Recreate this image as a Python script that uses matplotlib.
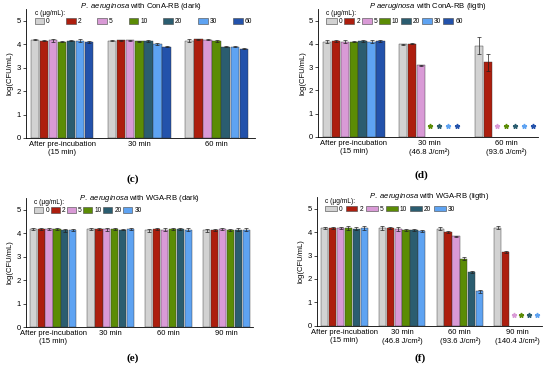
import numpy as np
import matplotlib
matplotlib.use('Agg')
import matplotlib.pyplot as plt
from matplotlib.patches import Patch

matplotlib.rcParams.update({'font.family': 'Liberation Sans', 'font.size': 5.5})
matplotlib.rcParams.update({'mathtext.fontset': 'custom',
                            'mathtext.rm': 'Liberation Sans',
                            'mathtext.it': 'Liberation Sans:italic'})

# series (concentration, ug/mL) and their colours
conc = ['0', '2', '5', '10', '20', '30', '60']
colors = ['#d2d2d2', '#ad1e0e', '#d99ad6', '#5b8c05', '#2b5d70', '#5ea3f2', '#2352ab']

# (c) ConA-RB dark
c_groups = ['After pre-incubation\n(15 min)', '30 min', '60 min']
c_vals = [[4.18, 4.15, 4.16, 4.10, 4.15, 4.15, 4.10],
          [4.15, 4.17, 4.16, 4.13, 4.13, 4.02, 3.90],
          [4.15, 4.20, 4.18, 4.14, 3.90, 3.90, 3.80]]
c_err = [[0.02, 0.03, 0.05, 0.02, 0.03, 0.05, 0.03],
         [0.02, 0.02, 0.03, 0.02, 0.04, 0.05, 0.04],
         [0.07, 0.03, 0.02, 0.03, 0.04, 0.02, 0.02]]

# (d) ConA-RB light
d_groups = ['After pre-incubation\n(15 min)', '30 min\n(46.8 J/cm²)', '60 min\n(93.6 J/cm²)']
d_vals = [[4.10, 4.12, 4.10, 4.10, 4.12, 4.10, 4.12],
          [3.98, 4.00, 3.07, np.nan, np.nan, np.nan, np.nan],
          [3.93, 3.20, np.nan, np.nan, np.nan, np.nan, np.nan]]
d_err = [[0.08, 0.03, 0.06, 0.04, 0.03, 0.05, 0.04],
         [0.01, 0.02, 0.01, 0, 0, 0, 0],
         [0.38, 0.35, 0, 0, 0, 0, 0]]

# (e) WGA-RB dark
e_groups = ['After pre-incubation\n(15 min)', '30 min', '60 min', '90 min']
e_vals = [[4.18, 4.18, 4.18, 4.18, 4.13, 4.13],
          [4.18, 4.17, 4.16, 4.18, 4.15, 4.18],
          [4.12, 4.17, 4.15, 4.17, 4.17, 4.15],
          [4.12, 4.12, 4.17, 4.15, 4.15, 4.15]]
e_err = [[0.04, 0.03, 0.03, 0.03, 0.06, 0.04],
         [0.03, 0.05, 0.06, 0.03, 0.03, 0.04],
         [0.06, 0.04, 0.05, 0.04, 0.04, 0.07],
         [0.07, 0.04, 0.05, 0.04, 0.05, 0.05]]

# (f) WGA-RB light
f_groups = ['After pre-incubation\n(15 min)', '30 min\n(46.8 J/cm²)',
            '60 min\n(93.6 J/cm²)', '90 min\n(140.4 J/cm²)']
f_vals = [[4.17, 4.17, 4.17, 4.17, 4.15, 4.17],
          [4.17, 4.17, 4.13, 4.08, 4.08, 4.04],
          [4.15, 4.00, 3.82, 2.87, 2.31, 1.47],
          [4.18, 3.15, np.nan, np.nan, np.nan, np.nan]]
f_err = [[0.04, 0.05, 0.06, 0.07, 0.07, 0.08],
         [0.07, 0.06, 0.07, 0.05, 0.05, 0.04],
         [0.06, 0.06, 0.03, 0.05, 0.04, 0.05],
         [0.06, 0.04, 0, 0, 0, 0]]

panels = [
    dict(label='(c)', title=r'$\it{P.\ aeruginosa}$ with ConA-RB (dark)', groups=c_groups,
         vals=c_vals, err=c_err, rect=[0.047, 0.632, 0.417, 0.344], xlim=(-0.47, 2.5),
         colsp=2.4, hl=1.45, lab=(0.242, 0.523), ty=1.022),
    dict(label='(d)', title=r'$\it{P\ aeruginosa}$ with ConA-RB (ligth)', groups=d_groups,
         vals=d_vals, err=d_err, rect=[0.578, 0.635, 0.400, 0.341], xlim=(-0.47, 2.42),
         colsp=0.25, hl=1.55, lab=(0.767, 0.533), ty=1.022),
    dict(label='(e)', title=r'$\it{P.\ aeruginosa}$ with WGA-RB (dark)', groups=e_groups,
         vals=e_vals, err=e_err, rect=[0.047, 0.128, 0.413, 0.344], xlim=(-0.47, 3.46),
         colsp=0.25, hl=1.35, lab=(0.242, 0.045), ty=1.0),
    dict(label='(f)', title=r'$\it{P.\ aeruginosa}$ with WGA-RB (ligth)', groups=f_groups,
         vals=f_vals, err=f_err, rect=[0.576, 0.131, 0.409, 0.344], xlim=(-0.48, 3.42),
         colsp=0.45, hl=1.75, lab=(0.764, 0.045), ty=1.0),
]

fig = plt.figure(figsize=(5.5, 3.75), dpi=100)

for p in panels:
    ax = fig.add_axes(p['rect'])
    vals = np.array(p['vals'], dtype=float)
    err = np.array(p['err'], dtype=float)
    ng, ns = vals.shape
    step = 0.82 / ns
    centers = np.arange(ng)
    for s in range(ns):
        x = centers - 0.41 + step * (s + 0.5)
        v = vals[:, s]
        ok = ~np.isnan(v)
        ax.bar(x[ok], v[ok], width=step * 0.92, color=colors[s], edgecolor='#333333',
               linewidth=0.3, yerr=err[ok, s], capsize=1.2,
               error_kw=dict(elinewidth=0.5, capthick=0.5, ecolor='#222222'))
        # below detection limit
        if (~ok).any():
            ax.plot(x[~ok], np.full((~ok).sum(), 0.47), ls='none', marker='*',
                    ms=3.5, color=colors[s], mec=colors[s])
    ax.set_xlim(*p['xlim'])
    ax.set_ylim(0, 5.5)
    ax.set_yticks([0, 1, 2, 3, 4, 5])
    ax.set_xticks(centers)
    ax.set_xticklabels(p['groups'], fontsize=5.5, linespacing=1.25)
    ax.tick_params(axis='x', length=0, pad=2)
    ax.tick_params(axis='y', length=2, width=0.5, pad=1.5, labelsize=5.5)
    for side in ['top', 'right']:
        ax.spines[side].set_visible(False)
    for side in ['left', 'bottom']:
        ax.spines[side].set_linewidth(0.6)
    ax.set_ylabel('log(CFU/mL)', fontsize=5.5, labelpad=2)
    ax.text(0.5, p['ty'], p['title'], transform=ax.transAxes, fontsize=5.5,
            ha='center', va='center')

    handles = [Patch(facecolor=colors[s], edgecolor='#444444', linewidth=0.4) for s in range(ns)]
    leg = ax.legend(handles, conc[:ns], loc='upper left', bbox_to_anchor=(0.035, 1.0),
                    ncol=ns, frameon=False, fontsize=4.8, title='c (µg/mL):',
                    title_fontsize=4.8, alignment='left', handlelength=p['hl'],
                    handleheight=0.9, handletextpad=0.3, columnspacing=p['colsp'],
                    borderaxespad=0, borderpad=0.1, labelspacing=0.2)
    leg._legend_box.sep = 1

    fig.text(p['lab'][0], p['lab'][1], p['label'], family='Liberation Serif',
             fontweight='bold', fontsize=8, ha='center', va='center')

fig.savefig('out.png', dpi=100)
